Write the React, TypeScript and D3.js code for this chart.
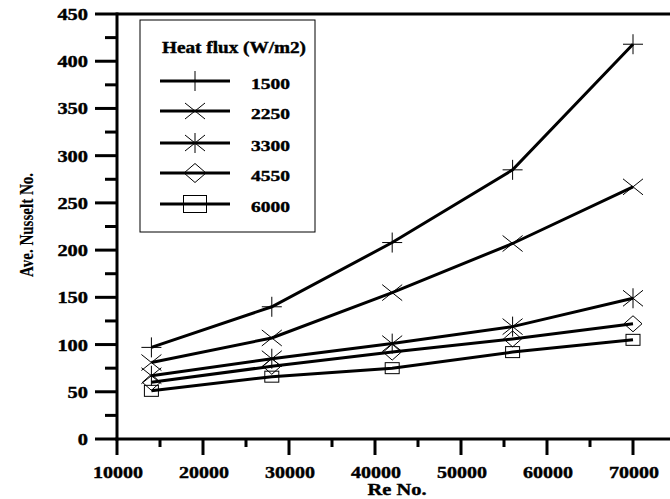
import React from "react";
import * as d3 from "d3";

const reValues = [14000, 28000, 42000, 56000, 70000];
const seriesNames = ["1500", "2250", "3300", "4550", "6000"];
const flux1500 = [97, 140, 208, 285, 418];
const flux2250 = [81, 107, 155, 207, 267];
const flux3300 = [67, 85, 101, 119, 149];
const flux4550 = [60, 77, 92, 106, 122];
const flux6000 = [51, 66, 75, 92, 105];
const seriesValues = [flux1500, flux2250, flux3300, flux4550, flux6000];
const markerTypes = ["plus", "cross", "asterisk", "diamond", "square"];
const xTicks = [10000, 20000, 30000, 40000, 50000, 60000, 70000];
const yTicks = [0, 50, 100, 150, 200, 250, 300, 350, 400, 450];

const W = 670, H = 499;
const x = d3.scaleLinear().domain([10000, 75000]).range([117, 676]);
const y = d3.scaleLinear().domain([0, 450]).range([439, 14]);

function Marker({ type, cx, cy, big }: { type: string; cx: number; cy: number; big?: boolean }) {
  const s = { stroke: "#000", strokeWidth: 1, fill: "none" } as const;
  if (type === "plus") {
    return <path d={`M${cx - 10},${cy}H${cx + 10}M${cx},${cy - 10}V${cy + 10}`} {...s} />;
  }
  if (type === "cross") {
    const rx = 10, ry = 8;
    return <path d={`M${cx - rx},${cy - ry}L${cx + rx},${cy + ry}M${cx - rx},${cy + ry}L${cx + rx},${cy - ry}`} {...s} />;
  }
  if (type === "asterisk") {
    const rx = 10, ry = 8;
    return <path d={`M${cx - rx},${cy - ry}L${cx + rx},${cy + ry}M${cx - rx},${cy + ry}L${cx + rx},${cy - ry}M${cx},${cy - 10}V${cy + 10}`} {...s} />;
  }
  if (type === "diamond") {
    const rx = big ? 11 : 9, ry = big ? 9.5 : 8;
    return <path d={`M${cx - rx},${cy}L${cx},${cy - ry}L${cx + rx},${cy}L${cx},${cy + ry}Z`} {...s} />;
  }
  const w = big ? 23 : 14, h = big ? 17 : 11;
  return <rect x={cx - w / 2} y={cy - h / 2} width={w} height={h} {...s} />;
}

export default function App() {
  const line = d3.line<[number, number]>().x(d => x(d[0])).y(d => y(d[1]));
  const minorY = d3.range(25, 450, 50);
  const minorX = d3.range(15000, 75000, 10000);
  const font = "Liberation Serif, Tinos, Times New Roman, DejaVu Serif, serif";
  const legendY = [81, 111, 143, 173, 204];
  const txt = { fontFamily: font, fontWeight: "bold", stroke: "#000", strokeWidth: 0.4, lengthAdjust: "spacingAndGlyphs" } as const;
  return (
    <svg width={W} height={H} style={{ position: "absolute", left: 0, top: 0, background: "#fff" }}>
      <rect x={0} y={0} width={W} height={H} fill="#fff" />
      <line x1={117} x2={W} y1={y(450)} y2={y(450)} stroke="#000" strokeWidth={3} />
      <line x1={117} x2={117} y1={y(450) - 1.5} y2={y(0) + 1.5} stroke="#000" strokeWidth={3} />
      <line x1={115.5} x2={W} y1={y(0)} y2={y(0)} stroke="#000" strokeWidth={3} />
      {yTicks.map(t => (
        <g key={t}>
          <line x1={95} x2={117} y1={y(t)} y2={y(t)} stroke="#000" strokeWidth={3} />
          <text x={88} y={y(t) + 6} textAnchor="end" fontSize={16} {...txt}
            textLength={String(t).length * 10.2}>{t}</text>
        </g>
      ))}
      {minorY.map(t => (
        <line key={t} x1={105} x2={117} y1={y(t)} y2={y(t)} stroke="#000" strokeWidth={3} />
      ))}
      {xTicks.map(t => (
        <g key={t}>
          <line x1={x(t)} x2={x(t)} y1={y(0)} y2={455} stroke="#000" strokeWidth={3} />
          <text x={x(t) + 1} y={478} textAnchor="middle" fontSize={16} {...txt} textLength={50}>{t}</text>
        </g>
      ))}
      {minorX.map(t => (
        <line key={t} x1={x(t)} x2={x(t)} y1={y(0)} y2={447} stroke="#000" strokeWidth={3} />
      ))}
      <text x={397} y={495} textAnchor="middle" fontSize={17} {...txt} textLength={59}>Re No.</text>
      <text transform={`translate(33,225) rotate(-90)`} textAnchor="middle" fontSize={19} {...txt} strokeWidth={0.2} textLength={104}>Ave. Nusselt No.</text>
      {seriesValues.map((vals, i) => {
        const pts: [number, number][] = reValues.map((r, j) => [r, vals[j]]);
        return (
          <g key={i}>
            <path d={line(pts) || ""} fill="none" stroke="#000" strokeWidth={3} />
            {pts.map((p, j) => (
              <Marker key={j} type={markerTypes[i]} cx={x(p[0])} cy={y(p[1])} />
            ))}
          </g>
        );
      })}
      <rect x={140} y={20} width={175} height={212} fill="#fff" stroke="#000" strokeWidth={1} />
      <text x={162} y={53} fontSize={16} {...txt} textLength={144}>Heat flux (W/m2)</text>
      {seriesNames.map((n, i) => (
        <g key={n}>
          <line x1={160} x2={230} y1={legendY[i]} y2={legendY[i]} stroke="#000" strokeWidth={3} />
          <Marker type={markerTypes[i]} cx={195} cy={legendY[i]} big />
          <text x={251} y={legendY[i] + 8} fontSize={15} {...txt} textLength={39}>{n}</text>
        </g>
      ))}
    </svg>
  );
}
